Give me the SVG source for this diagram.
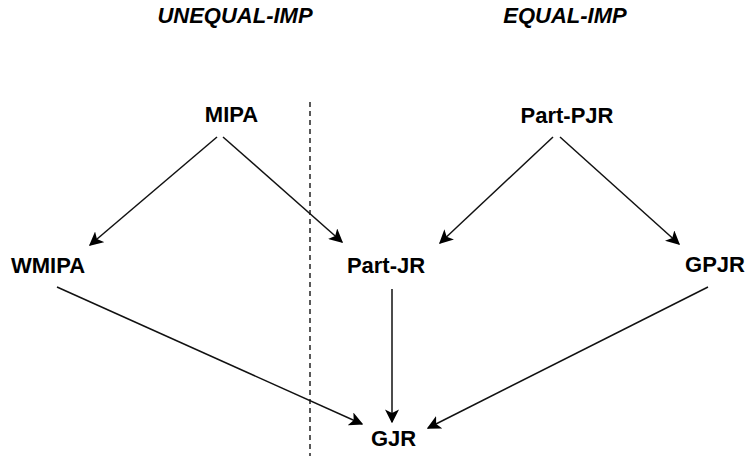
<svg xmlns="http://www.w3.org/2000/svg" width="749" height="456" viewBox="0 0 749 456">
<style>
.t{font-family:"Liberation Sans",Arial,sans-serif;font-weight:bold;font-size:22px;fill:#000;text-anchor:middle}
.h{font-family:"Liberation Sans",Arial,sans-serif;font-weight:bold;font-style:italic;font-size:22px;fill:#000;text-anchor:middle}
.e{stroke:#111;stroke-width:1.5;fill:none;marker-end:url(#a)}
</style>
<defs>
<marker id="a" viewBox="0 0 10 10" refX="9" refY="5" markerWidth="14" markerHeight="14" markerUnits="userSpaceOnUse" orient="auto">
<path d="M0,0 L10,5 L0,10 L2.5,5 Z" fill="#000"/>
</marker>
</defs>
<rect width="749" height="456" fill="#fff"/>
<text class="h" x="235" y="23">UNEQUAL-IMP</text>
<text class="h" x="565" y="23">EQUAL-IMP</text>
<line x1="310" y1="102" x2="310" y2="456" stroke="#000" stroke-width="1.3" stroke-dasharray="5,4"/>
<g id="edges">
<line class="e" x1="217" y1="137" x2="90" y2="245"/>
<line class="e" x1="223" y1="137" x2="342" y2="242"/>
<line class="e" x1="553" y1="137" x2="440" y2="243"/>
<line class="e" x1="560" y1="137" x2="679" y2="244"/>
<line class="e" x1="392" y1="289" x2="392" y2="422"/>
<line class="e" x1="57" y1="287" x2="362" y2="424"/>
<line class="e" x1="708" y1="287" x2="428" y2="428"/>
</g>
<g id="MIPA"><text class="t" x="231.5" y="122">MIPA</text></g>
<g id="Part-PJR"><text class="t" x="567" y="123">Part-PJR</text></g>
<g id="WMIPA"><text class="t" x="48" y="273">WMIPA</text></g>
<g id="Part-JR"><text class="t" x="386" y="273">Part-JR</text></g>
<g id="GPJR"><text class="t" x="715" y="272">GPJR</text></g>
<g id="GJR"><text class="t" x="393.5" y="446">GJR</text></g>
</svg>
